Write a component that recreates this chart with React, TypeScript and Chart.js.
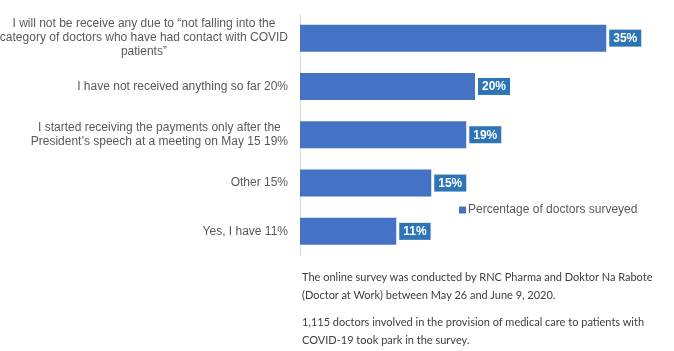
import React, { useEffect, useRef } from "react";
import { Chart, registerables } from "chart.js";

Chart.register(...registerables);

const categories: string[][] = [
  ["I will not be receive any due to \u201cnot falling into the", "category of doctors who have had contact with COVID", "patients\u201d"],
  ["I have not received anything so far 20%"],
  ["I started receiving the payments only after the", "President\u2019s speech at a meeting on May 15 19%"],
  ["Other 15%"],
  ["Yes, I have 11%"],
];
const values: number[] = [35, 20, 19, 15, 11];
const seriesName = "Percentage of doctors surveyed";
const footnoteParagraphs: string[][] = [
  ["The online survey was conducted by RNC Pharma and Doktor Na Rabote", "(Doctor at Work) between May 26 and June 9, 2020."],
  ["1,115 doctors involved in the provision of medical care to patients with", "COVID-19 took park in the survey."],
];

const BAR = "#4472C4";
const LABEL_BG = "#2E75B6";
const TEXT = "#595959";
const FONT = "'Liberation Sans', Arial, sans-serif";
const NOTE_FONT = "Lato, 'Liberation Sans', sans-serif";

const customDraw = {
  id: "customDraw",
  afterDatasetsDraw(chart: any) {
    const ctx = chart.ctx as CanvasRenderingContext2D;
    const yScale = chart.scales.y;
    const meta = chart.getDatasetMeta(0);
    ctx.save();
    // category labels
    ctx.font = `12px ${FONT}`;
    ctx.fillStyle = TEXT;
    ctx.textBaseline = "middle";
    ctx.textAlign = "center";
    const right = chart.chartArea.left - 12;
    categories.forEach((lines, i) => {
      const cy = yScale.getPixelForValue(i);
      const w = Math.max(...lines.map((l) => ctx.measureText(l).width));
      const cx = right - w / 2;
      const lh = 14;
      const start = cy - ((lines.length - 1) * lh) / 2;
      lines.forEach((l, j) => ctx.fillText(l, cx, start + j * lh));
    });
    // data labels
    ctx.font = `bold 12px ${FONT}`;
    meta.data.forEach((bar: any, i: number) => {
      const txt = `${values[i]}%`;
      const tw = ctx.measureText(txt).width;
      const bw = tw + 8;
      const bh = 17;
      const x = bar.x + 3;
      ctx.fillStyle = LABEL_BG;
      ctx.fillRect(x, bar.y - bh / 2, bw, bh);
      ctx.fillStyle = "#ffffff";
      ctx.textAlign = "center";
      ctx.fillText(txt, x + bw / 2, bar.y + 0.5);
    });
    // legend
    const lx = 459;
    const ly = 210;
    ctx.fillStyle = BAR;
    ctx.fillRect(lx, ly - 3.5, 7, 7);
    ctx.fillStyle = TEXT;
    ctx.font = `12px ${FONT}`;
    ctx.textAlign = "left";
    ctx.fillText(seriesName, lx + 9, ly);
    ctx.restore();
  },
};

export default function App() {
  const ref = useRef<HTMLCanvasElement>(null);
  useEffect(() => {
    if (!ref.current) return;
    const chart = new Chart(ref.current, {
      type: "bar",
      data: {
        labels: categories.map((c) => c.join(" ")),
        datasets: [
          {
            label: seriesName,
            data: values,
            backgroundColor: BAR,
            barPercentage: 0.56,
            categoryPercentage: 1,
          },
        ],
      },
      options: {
        indexAxis: "y",
        animation: false,
        responsive: false,
        maintainAspectRatio: false,
        layout: { padding: { top: 14, bottom: 95.5, right: 24, left: 0 } },
        plugins: { legend: { display: false }, tooltip: { enabled: false } },
        scales: {
          x: { display: false, min: 0, max: 40 },
          y: {
            grid: { display: false },
            border: { display: true, color: "#D9D9D9", width: 1 },
            ticks: { display: false },
            afterFit: (scale: any) => {
              scale.width = 300;
            },
          },
        },
      },
      plugins: [customDraw],
    });
    return () => chart.destroy();
  }, []);

  return (
    <div style={{ position: "absolute", left: 0, top: 0, width: 674, height: 351, background: "#fff" }}>
      <canvas ref={ref} width={674} height={351} style={{ display: "block" }} />
      <div
        style={{
          position: "absolute",
          left: 302,
          top: 268,
          fontFamily: NOTE_FONT,
          fontSize: 11,
          lineHeight: "18px",
          color: "#404040",
          whiteSpace: "nowrap",
        }}
      >
        {footnoteParagraphs.map((p, i) => (
          <div key={i} style={{ marginBottom: i === 0 ? 9 : 0 }}>
            {p.map((l, j) => (
              <div key={j}>{l}</div>
            ))}
          </div>
        ))}
      </div>
    </div>
  );
}
